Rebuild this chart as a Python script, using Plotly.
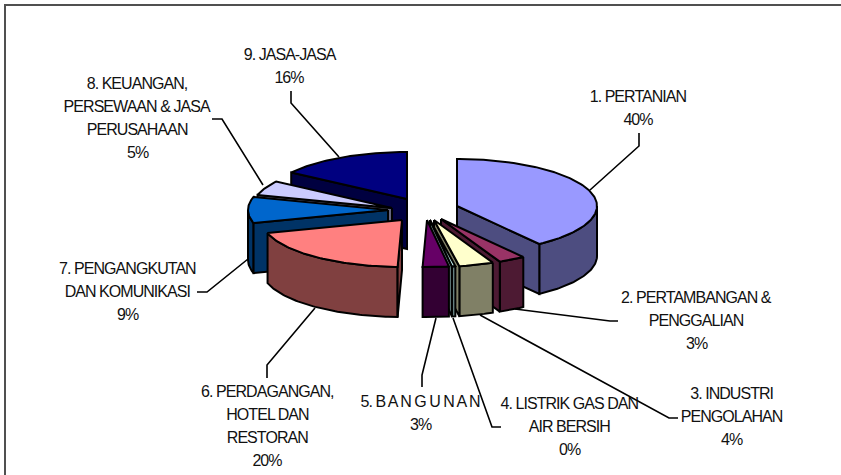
import numpy as np
import plotly.graph_objects as go

# Data
categories = [["1. PERTANIAN"], ["2. PERTAMBANGAN &", "PENGGALIAN"], ["3. INDUSTRI", "PENGOLAHAN"],
              ["4. LISTRIK GAS DAN", "AIR BERSIH"], ["5. B A N G U N A N"], ["6. PERDAGANGAN,", "HOTEL DAN", "RESTORAN"],
              ["7. PENGANGKUTAN", "DAN KOMUNIKASI"], ["8. KEUANGAN,", "PERSEWAAN & JASA", "PERUSAHAAN"], ["9. JASA-JASA"]]
values = [40.0, 3.1, 4.0, 0.4, 3.0, 20.0, 9.0, 5.0, 15.5]
percent_labels = ["40%", "3%", "4%", "0%", "3%", "20%", "9%", "5%", "16%"]
top_colors = ["#9999FF", "#993366", "#FFFFCC", "#CCFFFF", "#660066", "#FF8080", "#0066CC", "#CCCCFF", "#000080"]
side_colors = ["#4D4D80", "#4D1A33", "#808066", "#668080", "#330033", "#804040", "#003366", "#666680", "#000040"]

# Projection and layout
RX, RY, DEPTH = 140, 47, 50
apexes = [(457, 206), (441, 219), (434, 220), (430, 220), (427, 220),
          (402, 220), (388, 210), (392, 208), (407, 199)]
draw_order = [8, 7, 6, 5, 0, 1, 2, 3, 4]
label_pos = [(638, 96), (696, 297), (731, 393), (569, 403), (420, 401), (267, 391), (127, 268), (137, 83), (289, 54)]
LINE_STEP = 23.2
leaders = [[(639, 133), (639, 146), (590, 190)],
           [(618, 321), (610, 321), (515, 309)],
           [(678, 418), (669, 418), (480, 315)],
           [(501, 427), (492, 427), (453, 318)],
           [(422, 387), (422, 375), (436, 318)],
           [(267, 378), (267, 365), (315, 308)],
           [(197, 292), (207, 292), (248, 259)],
           [(212, 119), (222, 119), (263, 185)],
           [(291, 91), (291, 103), (339, 157)]]

fracs = np.array(values) / sum(values) * 360
ends = np.cumsum(fracs)
starts = ends - fracs

fig = go.Figure()


def rim(ax, ay, angs, dy=0):
    r = np.radians(angs)
    return ax + RX * np.sin(r), ay - RY * np.cos(r) + dy


def poly(xs, ys, color):
    xs, ys = list(xs), list(ys)
    fig.add_trace(go.Scatter(x=xs + xs[:1], y=ys + ys[:1], mode="lines", fill="toself", fillcolor=color,
                             line=dict(color="black", width=2), hoverinfo="skip", showlegend=False))


for i in draw_order:
    ax, ay = apexes[i]
    a0, a1 = starts[i], ends[i]
    top, side = top_colors[i], side_colors[i]
    walls = []
    if np.sin(np.radians(a0)) < 0:
        walls.append(a0)
    if np.sin(np.radians(a1)) > 0:
        walls.append(a1)
    lo, hi = max(a0, 90), min(a1, 270)
    if hi > lo:
        angs = np.linspace(lo, hi, max(3, int(hi - lo) + 2))
        x1, y1 = rim(ax, ay, angs)
        x2, y2 = rim(ax, ay, angs[::-1], DEPTH)
        poly(np.r_[x1, x2], np.r_[y1, y2], side)
    for w in walls:
        px, py = rim(ax, ay, np.array([w]))
        poly([ax, px[0], px[0], ax], [ay, py[0], py[0] + DEPTH, ay + DEPTH], side)
    angs = np.linspace(a0, a1, max(3, int(a1 - a0) + 2))
    x1, y1 = rim(ax, ay, angs)
    poly(np.r_[ax, x1], np.r_[ay, y1], top)

for pts in leaders:
    fig.add_trace(go.Scatter(x=[p[0] for p in pts], y=[p[1] for p in pts], mode="lines",
                             line=dict(color="black", width=1.6), hoverinfo="skip", showlegend=False))

for lines, pct, (lx, ly) in zip(categories, percent_labels, label_pos):
    for k, line in enumerate(lines + [pct]):
        fig.add_annotation(x=lx, y=ly + k * LINE_STEP, text=line, showarrow=False, align="center",
                           font=dict(family="Liberation Sans", size=16, color="#111111"))

fig.update_layout(width=841, height=475, margin=dict(l=0, r=0, t=0, b=0), paper_bgcolor="white",
                  plot_bgcolor="white", showlegend=False,
                  xaxis=dict(range=[0, 841], visible=False, fixedrange=True),
                  yaxis=dict(range=[475, 0], visible=False, fixedrange=True),
                  shapes=[dict(type="rect", xref="x", yref="y", x0=5, x1=860, y0=5, y1=490,
                               line=dict(color="#505050", width=2), layer="above")])
post = ("document.documentElement.style.overflow='hidden';document.body.style.margin='0';"
        "document.querySelectorAll('.annotation-text').forEach(function(e){e.style.letterSpacing='-0.95px';});")
fig.write_html("out.html", post_script=post, config={"displayModeBar": False})
